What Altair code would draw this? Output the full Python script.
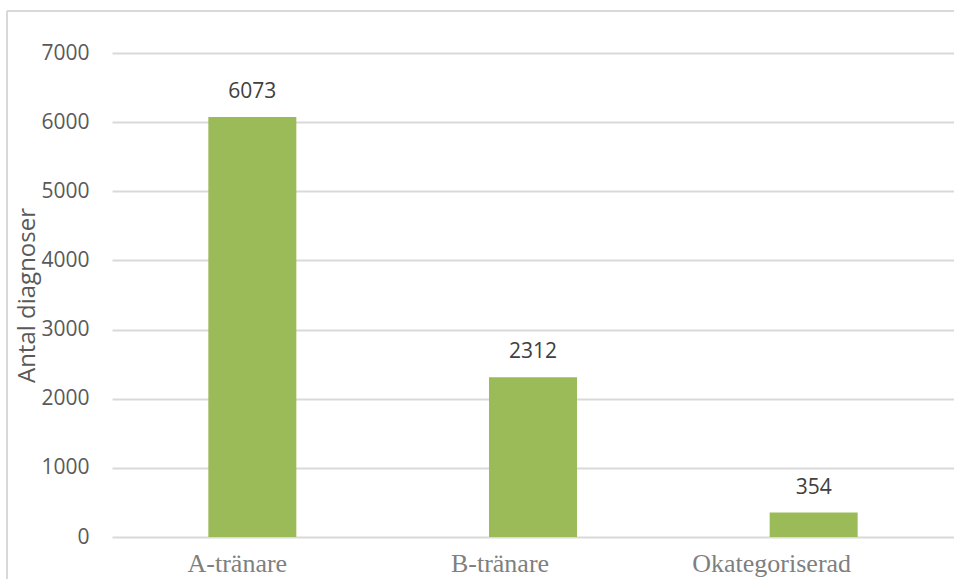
import altair as alt
import pandas as pd

categories = ["A-tränare", "B-tränare", "Okategoriserad"]
values = [6073, 2312, 354]

df = pd.DataFrame({"kategori": categories, "antal": values})

label_offset = alt.ExprRef(
    "datum.value == 'A-tränare' ? -15 : datum.value == 'B-tränare' ? -33 : -42"
)

x_enc = alt.X(
    "kategori:N",
    sort=categories,
    scale=alt.Scale(paddingInner=0, paddingOuter=0),
    axis=alt.Axis(
        title=None,
        domain=False,
        ticks=False,
        grid=False,
        labelFont="Liberation Serif",
        labelFontSize=26,
        labelColor="#7f7f7f",
        labelPadding=13,
        labelAngle=0,
        labelOffset=label_offset,
    ),
)
y_enc = alt.Y(
    "antal:Q",
    scale=alt.Scale(domain=[0, 7000], nice=False),
    axis=alt.Axis(
        title="Antal diagnoser",
        titleFont="Open Sans",
        titleFontSize=24,
        titleFontWeight="normal",
        titleColor="#595959",
        titlePadding=1,
        values=[0, 1000, 2000, 3000, 4000, 5000, 6000, 7000],
        format="d",
        domain=False,
        ticks=False,
        labelFont="Open Sans",
        labelFontSize=21,
        labelColor="#595959",
        labelPadding=23,
        gridColor="#d9d9d9",
        gridWidth=2,
    ),
)

base = alt.Chart(df)
bars = base.mark_bar(size=88, color="#9BBB59").encode(x=x_enc, y=y_enc)
labels = base.mark_text(
    dy=-19, baseline="alphabetic", font="Open Sans", fontSize=21, color="#404040"
).encode(x=alt.X("kategori:N", sort=categories), y="antal:Q", text="antal:Q")

border_left = alt.Chart(df).mark_rule(color="#d9d9d9", strokeWidth=2).encode(
    x=alt.value(-105), y=alt.value(-42), y2=alt.value(526)
)
border_top = alt.Chart(df).mark_rule(color="#d9d9d9", strokeWidth=2).encode(
    x=alt.value(-105), x2=alt.value(842), y=alt.value(-42)
)

chart = (
    alt.layer(border_left, border_top, bars, labels)
    .properties(
        width=842,
        height=484,
        autosize=alt.AutoSizeParams(type="none"),
        padding={"left": 112, "top": 53, "right": 0, "bottom": 42},
        background="white",
    )
    .configure_view(stroke=None, strokeWidth=0, fill=None)
)

chart.save("out.html", embed_options={"renderer": "svg", "actions": False})
